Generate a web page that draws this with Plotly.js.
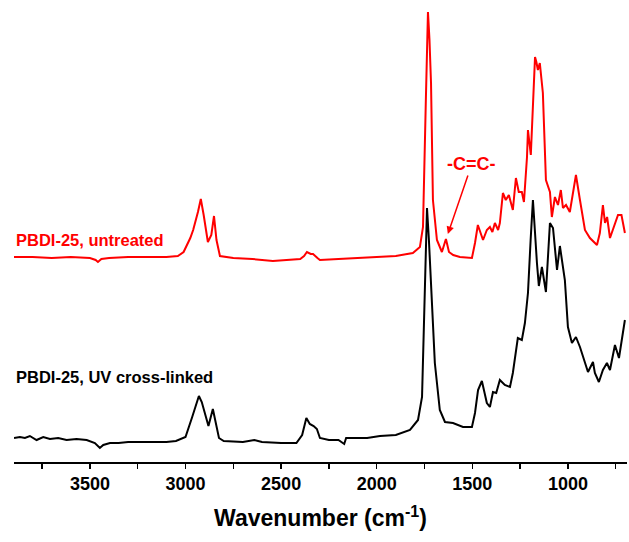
<!DOCTYPE html>
<html>
<head>
<meta charset="utf-8">
<script src="https://cdn.plot.ly/plotly-3.0.1.min.js"></script>
<style>html,body{margin:0;padding:0;background:#fff;}#chart{width:629px;height:542px;}</style>
</head>
<body>
<div id="chart"></div>
<script>
// Wavenumbers (cm-1) and intensities (a.u., as plotted incl. offset)
const crosslinkedWn = [3897,3866,3840,3814,3779,3744,3709,3666,3622,3570,3517,3474,3448,3430,3395,3350,3300,3200,3100,3050,3000,2965,2930,2915,2880,2857,2840,2825,2800,2700,2640,2600,2500,2420,2390,2368,2350,2330,2313,2297,2250,2200,2170,2160,2100,2050,1983,1900,1826,1784,1763,1753,1745,1737,1727,1716,1696,1670,1643,1601,1549,1502,1486,1470,1450,1424,1408,1392,1375,1356,1330,1303,1288,1262,1241,1225,1209,1195,1183,1162,1152,1136,1115,1094,1078,1057,1042,1016,1000,979,958,937,895,869,859,838,817,796,780,754,733,702];
const crosslinkedInt = [0.24,0.25,0.24,0.26,0.22,0.25,0.23,0.24,0.22,0.23,0.22,0.19,0.14,0.17,0.19,0.19,0.20,0.20,0.20,0.21,0.25,0.45,0.66,0.60,0.36,0.53,0.37,0.24,0.21,0.20,0.22,0.20,0.19,0.19,0.27,0.44,0.38,0.36,0.33,0.24,0.22,0.22,0.18,0.24,0.24,0.24,0.26,0.27,0.32,0.42,0.65,1.32,2.02,2.54,2.22,1.82,0.99,0.52,0.40,0.39,0.35,0.35,0.49,0.72,0.81,0.59,0.55,0.70,0.69,0.82,0.77,0.75,0.89,1.24,1.22,1.39,1.69,2.22,2.62,1.99,1.76,1.95,1.70,2.39,2.34,1.92,2.16,1.82,1.35,1.19,1.25,1.15,0.90,1.00,0.89,0.80,0.92,0.99,0.92,1.17,1.04,1.42];

const untreatedWn = [3897,3800,3700,3600,3500,3470,3458,3440,3400,3300,3200,3100,3040,3010,2975,2960,2935,2920,2905,2883,2865,2851,2838,2820,2750,2650,2543,2450,2400,2380,2365,2345,2333,2310,2297,2200,2100,2000,1900,1811,1774,1758,1750,1743,1732,1724,1716,1706,1685,1659,1638,1622,1600,1565,1502,1486,1471,1444,1424,1408,1395,1382,1365,1356,1340,1325,1309,1288,1272,1257,1241,1230,1214,1209,1194,1183,1172,1165,1157,1147,1131,1115,1094,1084,1068,1052,1037,1026,1010,990,958,937,911,885,848,833,817,806,795,780,754,738,720,702];
const untreatedInt = [2.05,2.05,2.04,2.05,2.04,2.02,2.00,2.03,2.04,2.05,2.05,2.05,2.06,2.10,2.24,2.32,2.50,2.63,2.47,2.20,2.27,2.46,2.22,2.06,2.04,2.03,2.01,2.02,2.03,2.06,2.10,2.08,2.08,2.04,2.02,2.03,2.04,2.05,2.06,2.09,2.15,2.35,2.92,3.62,4.50,4.22,3.79,2.62,2.22,2.10,2.23,2.10,2.07,2.05,2.04,2.19,2.37,2.22,2.32,2.35,2.30,2.39,2.32,2.39,2.69,2.62,2.67,2.52,2.84,2.70,2.70,2.60,3.05,3.32,3.07,3.62,4.05,4.00,3.92,3.99,3.69,2.82,2.70,2.45,2.65,2.57,2.72,2.54,2.57,2.50,2.87,2.62,2.32,2.24,2.17,2.29,2.57,2.39,2.45,2.24,2.39,2.47,2.47,2.29];

const seriesNames = ["PBDI-25, untreated", "PBDI-25, UV cross-linked"];
const peakLabel = "-C=C-";
const xTitle = "Wavenumber (cm<sup>-1</sup>)";

const FONT = "Liberation Sans, Arial, sans-serif";

const traces = [
  {x: untreatedWn, y: untreatedInt, type: "scatter", mode: "lines", name: seriesNames[0],
   line: {color: "#ff0000", width: 2}},
  {x: crosslinkedWn, y: crosslinkedInt, type: "scatter", mode: "lines", name: seriesNames[1],
   line: {color: "#000000", width: 2}}
];

const layout = {
  width: 629, height: 542,
  margin: {l: 14, r: 2, t: 5, b: 80},
  paper_bgcolor: "#ffffff", plot_bgcolor: "#ffffff",
  showlegend: false,
  font: {family: FONT, color: "#000000"},
  xaxis: {
    range: [3897, 691],
    showgrid: false, zeroline: false,
    showline: true, linecolor: "#000000", linewidth: 1.5,
    ticks: "outside", ticklen: 5, tickwidth: 1.5, tickcolor: "#000000",
    tick0: 0, dtick: 500,
    minor: {dtick: 250, ticks: "outside", ticklen: 5, tickwidth: 1.5, tickcolor: "#000000", showgrid: false},
    tickfont: {family: FONT, size: 18, weight: "bold", color: "#000000"},
    title: {text: xTitle, font: {family: FONT, size: 23, weight: "bold", color: "#000000"}, standoff: 17}
  },
  yaxis: {
    range: [0, 4.57], visible: false, showgrid: false, zeroline: false
  },
  annotations: [
    {text: seriesNames[0], xref: "paper", x: 0, yref: "y", y: 2.22, xanchor: "left", yanchor: "middle",
     showarrow: false, font: {family: FONT, size: 16.5, weight: "bold", color: "#ff0000"}},
    {text: seriesNames[1], xref: "paper", x: 0, yref: "y", y: 0.85, xanchor: "left", yanchor: "middle",
     showarrow: false, font: {family: FONT, size: 16.5, weight: "bold", color: "#000000"}},
    {text: peakLabel, xref: "x", x: 1628, yref: "y", y: 2.28, showarrow: true,
     ax: 24, ay: -70, arrowhead: 2, arrowsize: 1, arrowwidth: 1.5, arrowcolor: "#ff0000", standoff: 0,
     font: {family: FONT, size: 18, weight: "bold", color: "#ff0000"}}
  ]
};

Plotly.newPlot("chart", traces, layout, {staticPlot: true, displayModeBar: false});
</script>
</body>
</html>
